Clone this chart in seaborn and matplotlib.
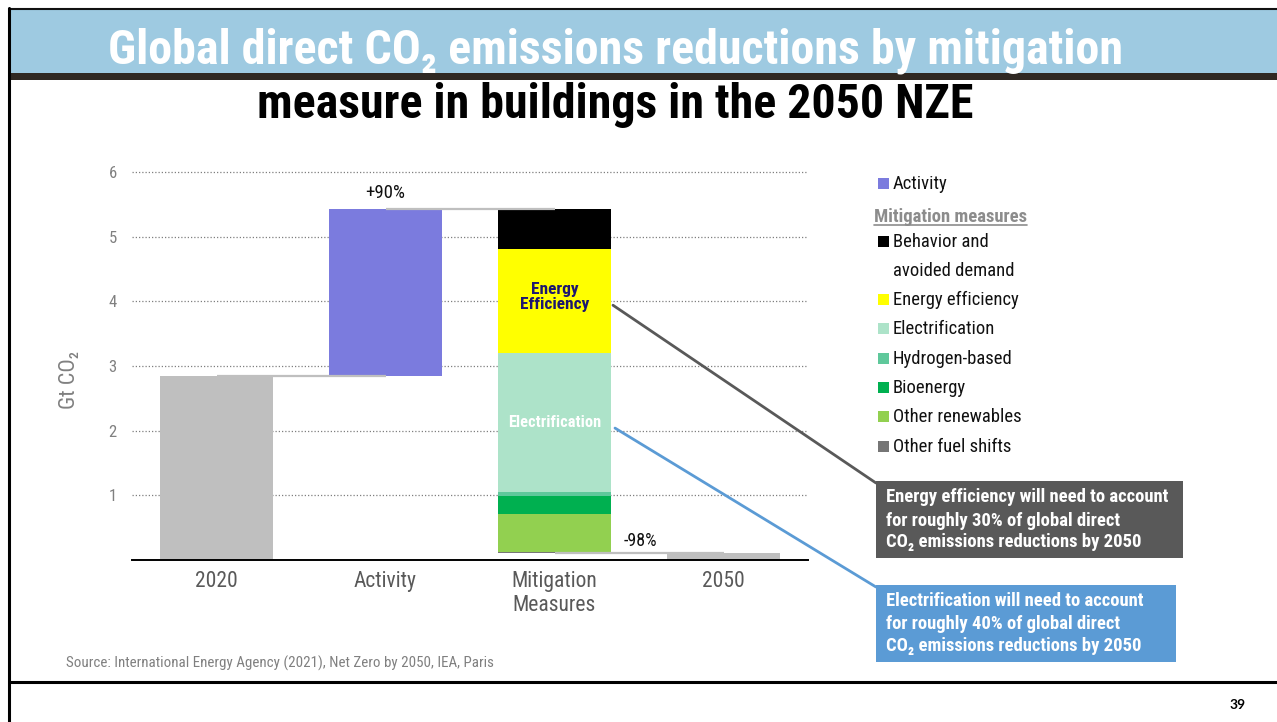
import matplotlib
matplotlib.use("Agg")
import matplotlib.pyplot as plt
from matplotlib import font_manager as fm
from matplotlib.patches import Rectangle, ConnectionPatch
from matplotlib.lines import Line2D
import seaborn as sns

# ---- data (Gt CO2) ----
categories = ["2020", "Activity", "Mitigation\nMeasures", "2050"]
emissions_2020 = 2.84
activity_increase = 2.59
emissions_2050 = 0.11
measures = ["Behavior and\navoided demand", "Energy efficiency", "Electrification",
            "Hydrogen-based", "Bioenergy", "Other renewables", "Other fuel shifts"]
measure_reductions = [0.62, 1.61, 2.15, 0.06, 0.28, 0.59, 0.01]
change_labels = ["+90%", "-98%"]
yticks = [1, 2, 3, 4, 5, 6]

# ---- colours ----
total_color = "#bfbfbf"
activity_color = "#7b7bde"
measure_colors = ["#000000", "#ffff00", "#ade3c9", "#5fc89b", "#00b050", "#92d050", "#767676"]

W, H = 1277, 722

sns.set_theme(style="white")
available = {f.name for f in fm.fontManager.ttflist}


def first_installed(*names):
    for n in names:
        if n in available:
            return n
    return "DejaVu Sans"


COND = first_installed("Roboto Condensed", "Liberation Sans Narrow", "Roboto")
FAM = [COND, "DejaVu Sans"]
plt.rcParams["font.family"] = FAM

fig = plt.figure(figsize=(W / 100, H / 100), dpi=100)
fig.patch.set_facecolor("white")


def fx(px):
    return px / W


def fy(py):
    return 1 - py / H


ax = fig.add_axes([fx(132), fy(560), 676 / W, 388 / H])


def bar(cat, value, bottom, color):
    sns.barplot(x=[cat], y=[value], order=categories, bottom=bottom, color=color,
                saturation=1, width=0.67, linewidth=0, errorbar=None, ax=ax, zorder=2)


# waterfall bars
bar(categories[0], emissions_2020, 0, total_color)
bar(categories[1], activity_increase, emissions_2020, activity_color)
peak = emissions_2020 + activity_increase
top = peak
segment_centers = {}
for name, val, col in zip(measures, measure_reductions, measure_colors):
    top -= val
    bar(categories[2], val, top, col)
    segment_centers[name] = top + val / 2
bar(categories[3], emissions_2050, 0, total_color)

# connectors between bars
conn_kw = dict(color="#bfbfbf", lw=1.6, zorder=3, solid_capstyle="butt")
ax.plot([0, 1], [emissions_2020] * 2, **conn_kw)
ax.plot([1, 2], [peak] * 2, **conn_kw)
ax.plot([2, 3], [emissions_2050] * 2, **conn_kw)

# value labels
ax.text(1, peak + 0.25, change_labels[0], ha="center", va="center", fontsize=13.5, color="#111111")
ax.text(2.506, emissions_2050 + 0.19, change_labels[1], ha="center", va="center",
        fontsize=13, color="#111111")
ax.text(2, segment_centers["Energy efficiency"] + 0.06, "Energy\nEfficiency", ha="center",
        va="center", fontsize=12.5, fontweight="bold", color="#1c1670", linespacing=1.0, zorder=4)
ax.text(2, segment_centers["Electrification"], "Electrification", ha="center", va="center",
        fontsize=11.8, fontweight="bold", color="white", zorder=4)

# axes styling
ax.set_xlim(-0.5, 3.5)
ax.set_ylim(0, 6)
ax.set_yticks(yticks)
ax.set_yticklabels([str(t) for t in yticks])
ax.set_xticks(range(len(categories)))
ax.set_xticklabels(categories)
ax.tick_params(axis="y", length=0, pad=11, labelcolor="#808080", labelsize=12)
ax.tick_params(axis="x", length=0, pad=8, labelcolor="#595959", labelsize=15.5)
ax.yaxis.grid(True, linestyle=(0, (1, 1.6)), color="#7f7f7f", lw=0.9)
ax.xaxis.grid(False)
ax.set_axisbelow(True)
for gl in ax.yaxis.get_gridlines():
    gl.set_clip_on(False)
for s in ["top", "right", "left"]:
    ax.spines[s].set_visible(False)
ax.spines["bottom"].set_color("black")
ax.spines["bottom"].set_linewidth(1.4)
ax.set_xlabel("")
ax.set_ylabel("Gt CO\u2082", color="#808080", fontsize=16)
ax.yaxis.set_label_coords((80 - 132) / 676, (560 - 380) / 388)
ax.set_facecolor("white")

# ---- page frame and title banner ----
fig.add_artist(Rectangle((fx(9), fy(73)), 1 - fx(9), (73 - 9) / H, transform=fig.transFigure,
                         facecolor="#9ecae1", edgecolor="none", zorder=0))
fig.add_artist(Rectangle((fx(9), fy(80)), 1 - fx(9), 7 / H, transform=fig.transFigure,
                         facecolor="#2f2822", edgecolor="none", zorder=1))
fig.add_artist(Line2D([fx(9), 1], [fy(9), fy(9)], transform=fig.transFigure, color="#111111", lw=1.5))
fig.add_artist(Line2D([fx(9), fx(9)], [fy(8), 0], transform=fig.transFigure, color="black", lw=2.2))
fig.add_artist(Line2D([fx(9), 1], [fy(682), fy(682)], transform=fig.transFigure, color="black", lw=2.2))

renderer = fig.canvas.get_renderer()


def fit_width(t, target):
    w = t.get_window_extent(renderer=renderer).width
    t.set_fontsize(t.get_fontsize() * target / w)
    return t.get_fontsize()


t1 = fig.text(fx(615), fy(63), "Global direct CO\u2082 emissions reductions by mitigation",
              ha="center", va="baseline", fontsize=34, fontweight="bold", color="white")
fit_width(t1, 1014)
t2 = fig.text(fx(615), fy(118), "measure in buildings in the 2050 NZE",
              ha="center", va="baseline", fontsize=34, fontweight="bold", color="black")
fit_width(t2, 716)

# ---- legend ----
legend_rows = [("Activity", activity_color, 184)]
legend_y = [242, 300, 329, 359, 388, 417, 447]
for name, col, y in zip(measures, measure_colors, legend_y):
    legend_rows.append((name, col, y))

probe = fig.text(0, 0, "Other renewables", fontsize=12)
legend_size = fit_width(probe, 128)
probe.remove()

for name, col, y in legend_rows:
    fig.add_artist(Rectangle((fx(878), fy(y + 5)), 11 / W, 11 / H, transform=fig.transFigure,
                             facecolor=col, edgecolor="none"))
    lines = name.split("\n")
    for i, line in enumerate(lines):
        fig.text(fx(893), fy(y + 29 * i), line, ha="left", va="center",
                 fontsize=legend_size, color="#111111")

hdr = fig.text(fx(874), fy(217), "Mitigation measures", ha="left", va="center",
               fontsize=legend_size, fontweight="bold", color="#8c8c8c")
hw = hdr.get_window_extent(renderer=renderer).width
fig.add_artist(Line2D([fx(874), fx(874 + hw)], [fy(225), fy(225)], transform=fig.transFigure,
                      color="#8c8c8c", lw=1.2))

# ---- callouts ----
callouts = [
    (["Energy efficiency will need to account", "for roughly 30% of global direct",
      "CO\u2082 emissions reductions by 2050"], "#595959", (876, 481, 1183, 558),
     [502, 526, 547], (2.346, 3.94)),
    (["Electrification will need to account", "for roughly 40% of global direct",
      "CO\u2082 emissions reductions by 2050"], "#5b9bd5", (876, 585, 1176, 662),
     [606, 629, 651], (2.358, 2.04)),
]
probe = fig.text(0, 0, callouts[0][0][0], fontsize=12, fontweight="bold")
callout_size = fit_width(probe, 284)
probe.remove()

for lines, col, (x0, y0, x1, y1), baselines, anchor in callouts:
    fig.add_artist(Rectangle((fx(x0), fy(y1)), (x1 - x0) / W, (y1 - y0) / H,
                             transform=fig.transFigure, facecolor=col, edgecolor="none", zorder=2))
    for line, b in zip(lines, baselines):
        fig.text(fx(886), fy(b), line, ha="left", va="baseline", fontsize=callout_size,
                 fontweight="bold", color="white", zorder=3)
    cp = ConnectionPatch(xyA=anchor, coordsA=ax.transData, xyB=(fx(x0), fy(y0 + 2)),
                         coordsB=fig.transFigure, arrowstyle="-", color=col, lw=2.0, zorder=5)
    fig.add_artist(cp)

# ---- footer ----
src = fig.text(fx(66), fy(663), "Source: International Energy Agency (2021), Net Zero by 2050, IEA, Paris",
               ha="left", va="center", fontsize=9, color="#808080")
fit_width(src, 426)
fig.text(fx(1238), fy(705), "39", ha="center", va="center", fontsize=10, fontweight="bold",
         color="black", family=["Lato", "DejaVu Sans"])

fig.savefig("out.png", dpi=100, facecolor="white")
